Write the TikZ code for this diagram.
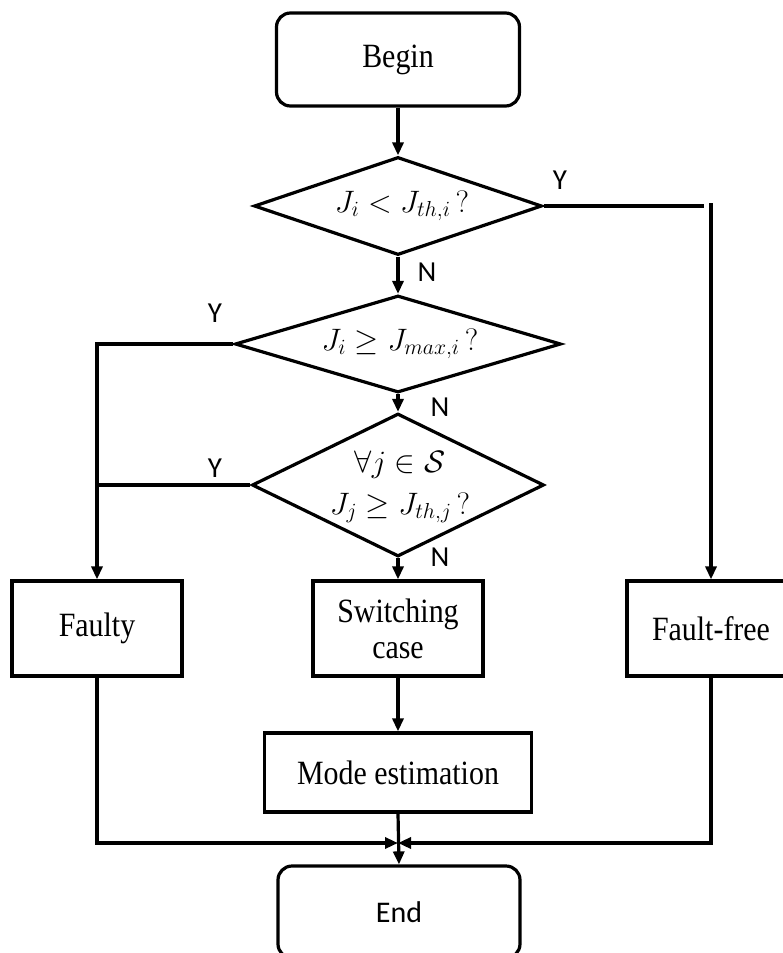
\RequirePackage{fix-cm}
\documentclass[tikz,border=0pt]{standalone}
\usepackage{fontspec}
\setmainfont{Liberation Serif}[FakeStretch=0.88]
\newfontfamily\labelfont{Carlito}
\usetikzlibrary{arrows.meta,shapes.geometric}

\begin{document}
\begin{tikzpicture}[x=1pt,y=-1pt,
  line width=3.2pt,
  every node/.style={font=\fontsize{34}{36}\selectfont},
  terminal/.style={draw, rounded corners=14pt, minimum width=243pt, minimum height=93pt, inner sep=0},
  process/.style={draw, minimum height=95pt, inner sep=0, align=center},
  decision/.style={draw, diamond, inner sep=0},
  cond/.style={font=\fontsize{31}{42}\selectfont, align=center, inner sep=0},
  yn/.style={font=\labelfont\fontsize{29}{30}\selectfont, inner sep=0},
  flow/.style={-{Triangle[length=13pt,width=11pt]}},
]
\useasboundingbox (0,0) rectangle (783,953);
\clip (0,0) rectangle (783,953);

% terminals
\node[terminal] (begin) at (398,59.5) {Begin};
\node[terminal, minimum width=242pt, minimum height=92pt] (end) at (399,912)
  {\labelfont\fontsize{30}{32}\selectfont End};

% decisions
\node[decision, minimum width=288pt, minimum height=98pt] (d1) at (398,206) {};
\node[cond] (d1t) at (402,206) {$J_i < J_{th,i}\,?$};
\node[decision, minimum width=326pt, minimum height=97pt] (d2) at (398,344) {};
\node[cond] (d2t) at (400,344) {$J_i \geq J_{max,i}\,?$};
\node[decision, minimum width=292pt, minimum height=143pt] (d3) at (398,485) {};
\node[cond] (d3t) at (400,487) {$\forall j \in \mathcal{S}$\\$J_j \geq J_{th,j}\,?$};

% processes
\node[process, minimum width=170pt] (faulty) at (97,628.5) {Faulty};
\node[process, minimum width=170pt] (switch) at (398,628.5) {Switching\\case};
\node[process, minimum width=168pt] (ff) at (711,628.5) {Fault-free};
\node[process, minimum width=267pt, minimum height=79pt] (mode) at (398,772.5) {Mode estimation};

% main path
\draw[flow] (begin.south) -- (d1.north);
\draw[flow] (d1.south) -- (d2.north);
\draw[flow] (d2.south) -- (d3.north);
\draw[flow] (d3.south) -- (switch.north);
\draw[flow] (switch.south) -- (mode.north);
\draw[flow] (mode.south) -- (end.north);

% fault-free branch
\coordinate (ybreak) at (704,206);
\coordinate (ydrop) at (711,203);
\draw (d1.east) -- (ybreak);
\draw[flow] (ydrop) -- (ff.north);

% faulty branch
\draw[flow] (d2.west) -| (faulty.north);
\draw (d3.west) -- (d3.west -| faulty.north);

% merge into End
\coordinate (join) at (398,843);
\draw[flow] (faulty.south) |- (join);
\draw[flow] (ff.south) |- (join);

% branch labels
\node[yn] (y1) at (560,180) {Y};
\node[yn] (n1) at (427,272) {N};
\node[yn] (y2) at (215,313) {Y};
\node[yn] (n2) at (440,407) {N};
\node[yn] (y3) at (215,468) {Y};
\node[yn] (n3) at (440,557) {N};
\end{tikzpicture}
\end{document}
